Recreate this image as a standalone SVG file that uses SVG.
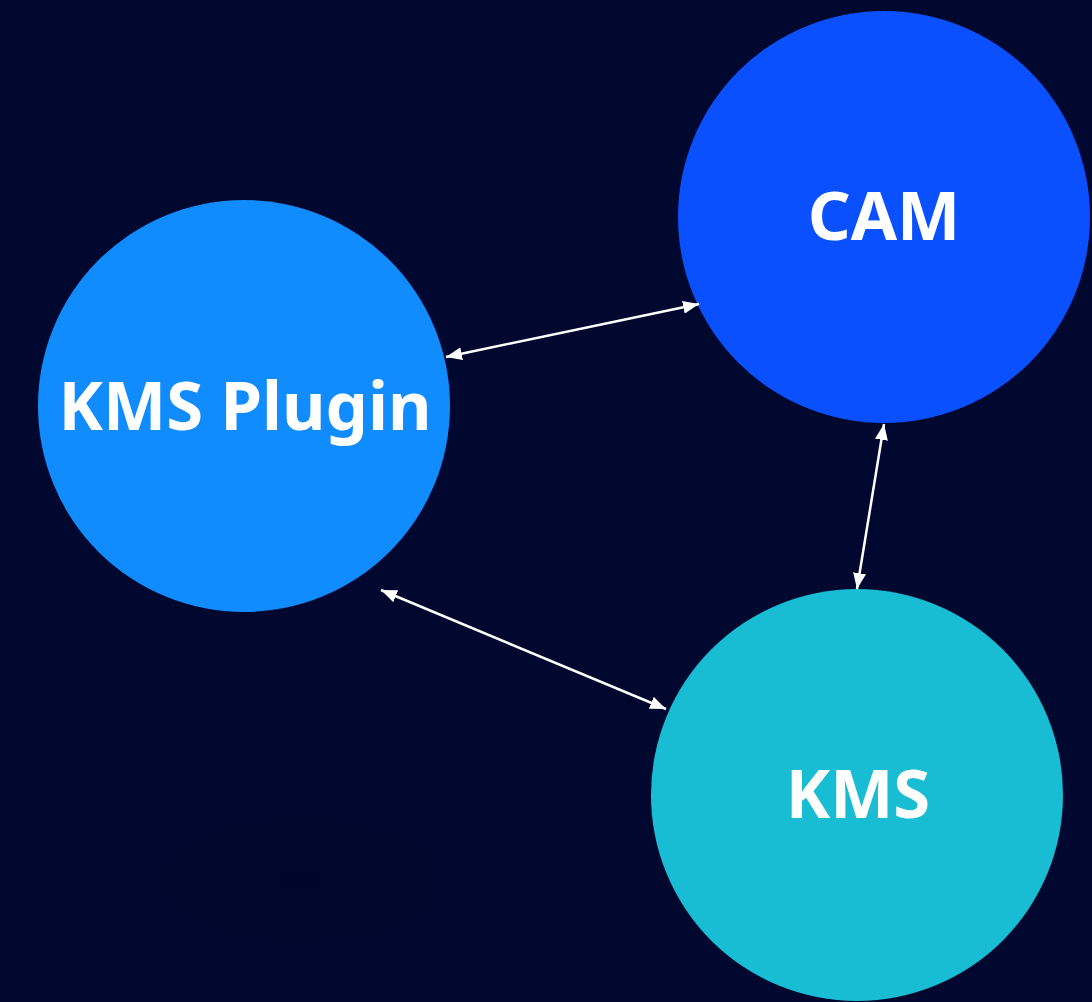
<svg xmlns="http://www.w3.org/2000/svg" width="1092" height="1002" viewBox="0 0 1092 1002">
  <defs>
    <marker id="ah" viewBox="0 0 16 13" refX="16" refY="6.5" markerWidth="16" markerHeight="13" markerUnits="userSpaceOnUse" orient="auto-start-reverse">
      <path d="M0,0 L16,6.5 L0,13 Z" fill="#ffffff"/>
    </marker>
    <radialGradient id="bgg" cx="300" cy="880" r="420" gradientUnits="userSpaceOnUse" gradientTransform="translate(300 880) scale(1 0.45) rotate(12) translate(-300 -880)">
      <stop offset="0" stop-color="#00062b"/>
      <stop offset="1" stop-color="#000830" stop-opacity="0"/>
    </radialGradient>
  </defs>
  <style>
    .lbl { font-family: "Noto Sans", "Open Sans", "DejaVu Sans", sans-serif; font-weight: 700; font-size: 67px; fill: #ffffff; text-anchor: middle; }
    .conn { stroke: #ffffff; stroke-width: 2.5; fill: none; marker-start: url(#ah); marker-end: url(#ah); }
  </style>
  <rect x="0" y="0" width="1092" height="1002" fill="#000830"/>
  <rect x="0" y="0" width="1092" height="1002" fill="url(#bgg)"/>
  <g id="node-kms-plugin">
    <circle cx="244" cy="406" r="206" fill="#118cff"/>
    <text class="lbl" x="245" y="430">KMS Plugin</text>
  </g>
  <g id="node-cam">
    <circle cx="884" cy="217" r="206" fill="#0a50ff"/>
    <text class="lbl" x="884" y="240">CAM</text>
  </g>
  <g id="node-kms">
    <circle cx="857" cy="795" r="206" fill="#19bdd3"/>
    <text class="lbl" x="858" y="818">KMS</text>
  </g>
  <g id="connectors">
    <line class="conn" x1="446" y1="357" x2="699" y2="304"/>
    <line class="conn" x1="381" y1="590" x2="666" y2="709"/>
    <line class="conn" x1="884" y1="424" x2="857" y2="589"/>
  </g>
</svg>
